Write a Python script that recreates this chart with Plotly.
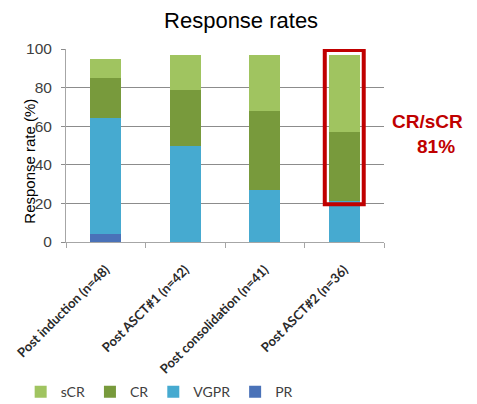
import plotly.graph_objects as go

categories = ["Post induction (n=48)", "Post ASCT#1 (n=42)", "Post consolidation (n=41)", "Post ASCT#2 (n=36)"]
pr = [4, 0, 0, 0]
vgpr = [60, 50, 27, 21]
cr = [21, 29, 41, 36]
scr = [10, 18, 29, 40]
y_ticks = [0, 20, 40, 60, 80, 100]

colors = {"PR": "#4A72B8", "VGPR": "#46AAD0", "CR": "#789A3C", "sCR": "#A0C460"}

fig = go.Figure()
for name, vals in [("PR", pr), ("VGPR", vgpr), ("CR", cr), ("sCR", scr)]:
    fig.add_trace(go.Bar(x=categories, y=vals, name=name, marker_color=colors[name],
                         marker_line_width=0, width=0.39))

# highlight box around CR/sCR of last bar
box_bottom = vgpr[3] - 1.5
fig.add_shape(type="rect", xref="x", yref="y", x0=2.755, x1=3.245, y0=box_bottom, y1=99.5,
              line=dict(color="#C00000", width=4))

red_font = dict(family="Liberation Sans, Arial", size=19, color="#C00000")
fig.add_annotation(text="<b>CR/sCR</b>", xref="paper", yref="paper", x=1.02, y=0.623,
                   xanchor="left", yanchor="middle", showarrow=False, font=red_font)
fig.add_annotation(text="<b>81%</b>", xref="paper", yref="paper", x=1.097, y=0.497,
                   xanchor="left", yanchor="middle", showarrow=False, font=red_font)

fig.add_annotation(text="Response rate (%)", xref="paper", yref="paper", x=-0.114, y=0.42,
                   xanchor="center", yanchor="middle", showarrow=False, textangle=-90,
                   font=dict(family="Liberation Sans, Arial", size=15, color="#000000"))

fig.update_layout(
    width=469, height=396,
    margin=dict(l=58, r=93, t=41, b=162, autoexpand=False),
    paper_bgcolor="white", plot_bgcolor="white",
    barmode="stack", bargap=0.5,
    title=dict(text="Response rates", x=0.497, xref="container", xanchor="center",
               y=0.970, yref="container", yanchor="middle",
               font=dict(family="Liberation Sans, Arial", size=22, color="#000000")),
    showlegend=True,
    legend=dict(orientation="h", xref="container", yref="container", x=0.027, y=0.03,
                xanchor="left", yanchor="middle",
                traceorder="reversed", font=dict(family="Lato, Open Sans", size=14, color="#404040"),
                itemwidth=30, bgcolor="rgba(0,0,0,0)"),
    xaxis=dict(tickangle=-45, tickfont=dict(family="Lato, Open Sans", size=13, color="#2A2A2A", weight="bold"),
               showline=True, linecolor="#A6A6A6", ticks="outside", tickson="boundaries",
               ticklen=5, tickcolor="#A6A6A6", ticklabelstandoff=14,
               range=[-0.5, 3.5], automargin=False),
    yaxis=dict(range=[0, 100], tickvals=y_ticks, showgrid=True, gridcolor="#8C8C8C", gridwidth=1,
               showline=True, linecolor="#A6A6A6", ticks="outside", ticklen=4, tickcolor="#8C8C8C",
               ticklabelstandoff=6, automargin=False,
               tickfont=dict(family="Liberation Sans, Arial", size=15.5, color="#404040"), zeroline=False),
)

fig.write_html("out.html")
